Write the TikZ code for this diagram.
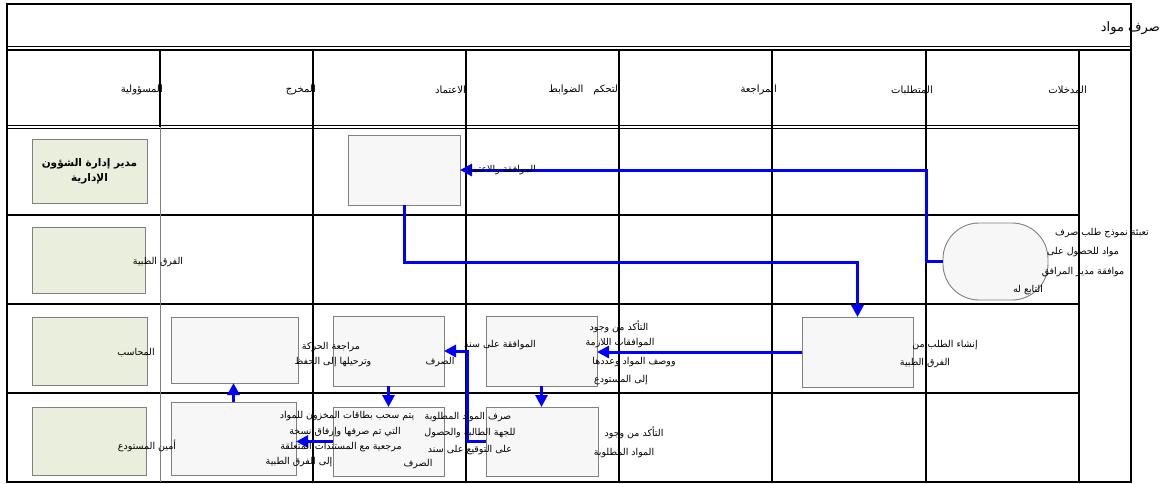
\documentclass[tikz,border=0pt]{standalone}
\usepackage{fontspec}
\setmainfont{DejaVu Sans}
\newfontfamily\arabicfont[Script=Arabic]{DejaVu Sans}
\TeXXeTstate=1
\usetikzlibrary{arrows.meta}
\newcommand\artxt[1]{{\arabicfont\beginR #1\endR}}
\definecolor{greenfill}{RGB}{234,238,221}
\definecolor{boxfill}{RGB}{247,247,247}
\definecolor{boxline}{RGB}{128,128,128}
\definecolor{flowblue}{RGB}{0,0,255}
\begin{document}
\begin{tikzpicture}[x=1pt,y=-1pt,
  gridline/.style={line width=1.8pt,black},
  thinline/.style={line width=0.8pt,boxline},
  greenbox/.style={draw=boxline,line width=0.9pt,fill=greenfill,inner sep=0pt,outer sep=0pt},
  whitebox/.style={draw=boxline,line width=0.9pt,fill=boxfill,inner sep=0pt,outer sep=0pt},
  flow/.style={draw=flowblue,line width=3pt,-{Triangle[length=12pt,width=12pt]}},
  txt/.style={inner sep=0pt,font=\fontsize{9.5}{11}\selectfont},
  headtxt/.style={inner sep=0pt,anchor=east,font=\fontsize{10}{12}\selectfont},
]
\useasboundingbox (0,0) rectangle (1160,483);
\fill[white] (0,0) rectangle (1160,483);
% table
\draw[gridline] (7,4) rectangle (1131,482);
\draw[line width=1.3pt] (7,46.5) -- (1131,46.5);
\draw[line width=1.3pt] (7,50) -- (1131,50);
\draw[line width=1.3pt] (7,125.5) -- (1079,125.5);
\draw[line width=1.3pt] (7,128.5) -- (1079,128.5);
\foreach \yy in {215,304,393} \draw[gridline] (7,\yy) -- (1079,\yy);
\draw[gridline] (160,50) -- (160,127);
\draw[thinline] (160,127) -- (160,482);
\foreach \xx in {313,466,619,772,926,1079} \draw[gridline] (\xx,50) -- (\xx,482);
% boxes
\node[greenbox,minimum width=115pt,minimum height=64pt,align=center,font=\fontsize{10.5}{15}\selectfont\bfseries] (g1) at (89.5,171) {\artxt{مدير إدارة الشؤون}\\\artxt{الإدارية}};
\node[greenbox,minimum width=113pt,minimum height=66pt] (g2) at (88.5,260) {};
\node[greenbox,minimum width=115pt,minimum height=68pt] (g3) at (89.5,351) {};
\node[greenbox,minimum width=114pt,minimum height=68pt] (g4) at (89,441) {};
\node[whitebox,minimum width=127pt,minimum height=66pt] (o3) at (234.5,350) {};
\node[whitebox,minimum width=125pt,minimum height=73pt] (o4) at (233.5,438.5) {};
\node[whitebox,minimum width=112pt,minimum height=70pt] (a1) at (404,170) {};
\node[whitebox,minimum width=111pt,minimum height=70pt] (a3) at (388.5,351) {};
\node[whitebox,minimum width=111pt,minimum height=69pt] (a4) at (388.5,441.5) {};
\node[whitebox,minimum width=111pt,minimum height=70pt] (r3) at (541.5,351) {};
\node[whitebox,minimum width=112pt,minimum height=69pt] (r4) at (542,441.5) {};
\node[whitebox,minimum width=111pt,minimum height=70pt] (q3) at (857.5,352) {};
\node[whitebox,minimum width=105pt,minimum height=77pt,rounded corners=36pt] (s) at (995.5,261.5) {};
% connectors
\draw[flow] (s.west) -- ++(-17,0) |- (a1.east);
\draw[flow] (a1.south) -- ++(0,57) -| (q3.north);
\draw[flow] (q3.west) -- (q3.west -| r3.east);
\draw[flow] (r3.south) -- (r3.south |- r4.north);
\draw[flow] (r4.west) -- ++(-19,0) |- (a3.east);
\draw[flow] (a3.south) -- (a4.north);
\draw[flow] (a4.west) -- (a4.west -| o4.east);
\draw[flow] (o4.north) -- (o4.north |- o3.south);
% title and headers
\node[inner sep=0pt,anchor=east,font=\fontsize{13}{15}\selectfont] (title) at (1160,28) {\artxt{صرف مواد}};
\node[headtxt] (h1) at (163,90) {\artxt{المسؤولية}};
\node[headtxt] (h2) at (316,90) {\artxt{المخرج}};
\node[headtxt] (h3) at (466,90) {\artxt{الاعتماد}};
\node[headtxt] (h4) at (621,90) {\artxt{التحكم\quad الضوابط}};
\node[headtxt] (h5) at (777,90) {\artxt{المراجعة}};
\node[headtxt] (h6) at (933,90) {\artxt{المتطلبات}};
\node[headtxt] (h7) at (1087,90) {\artxt{المدخلات}};
% texts
\node[txt] (tg2) at (158,262) {\artxt{الفرق الطبية}};
\node[txt] (tg3) at (136,353) {\artxt{المحاسب}};
\node[txt] (tg4) at (147,446) {\artxt{أمين المستودع}};
\node[txt] (ta1) at (501,170) {\artxt{الموافقة والاعتماد}};
\node[txt] (s1) at (1102,233) {\artxt{تعبئة نموذج طلب صرف}};
\node[txt] (s2) at (1083,252) {\artxt{مواد للحصول على}};
\node[txt] (s3) at (1083,272) {\artxt{موافقة مدير المرافق}};
\node[txt] (s4) at (1028,290) {\artxt{التابع له}};
\node[txt] (q1) at (945,345) {\artxt{إنشاء الطلب من}};
\node[txt] (q2) at (925,363) {\artxt{الفرق الطبية}};
\node[txt] (rr1) at (619,327) {\artxt{التأكد من وجود}};
\node[txt] (rr2) at (620,343) {\artxt{الموافقات اللازمة}};
\node[txt] (rr3) at (634,362) {\artxt{ووصف المواد وعددها}};
\node[txt] (rr4) at (621,380) {\artxt{إلى المستودع}};
\node[txt] (b1) at (500,345) {\artxt{الموافقة على سند}};
\node[txt] (b2) at (440,362) {\artxt{الصرف}};
\node[txt] (c1) at (331,347) {\artxt{مراجعة الحركة}};
\node[txt] (c2) at (333,362) {\artxt{وترحيلها إلى الحفظ}};
\node[txt] (d1) at (347,416) {\artxt{يتم سحب بطاقات المخزون للمواد}};
\node[txt] (d2) at (345,432) {\artxt{التي تم صرفها وإرفاق نسخة}};
\node[txt] (d3) at (341,447) {\artxt{مرجعية مع المستندات المتعلقة}};
\node[txt] (d4) at (299,462) {\artxt{إلى الفرق الطبية}};
\node[txt] (e1) at (468,417) {\artxt{صرف المواد المطلوبة}};
\node[txt] (e2) at (470,433) {\artxt{للجهة الطالبة والحصول}};
\node[txt] (e3) at (470,450) {\artxt{على التوقيع على سند}};
\node[txt] (e4) at (418,464) {\artxt{الصرف}};
\node[txt] (f1) at (634,433) {\artxt{التأكد من وجود}};
\node[txt] (f2) at (624,453) {\artxt{المواد المطلوبة}};
\end{tikzpicture}
\end{document}
